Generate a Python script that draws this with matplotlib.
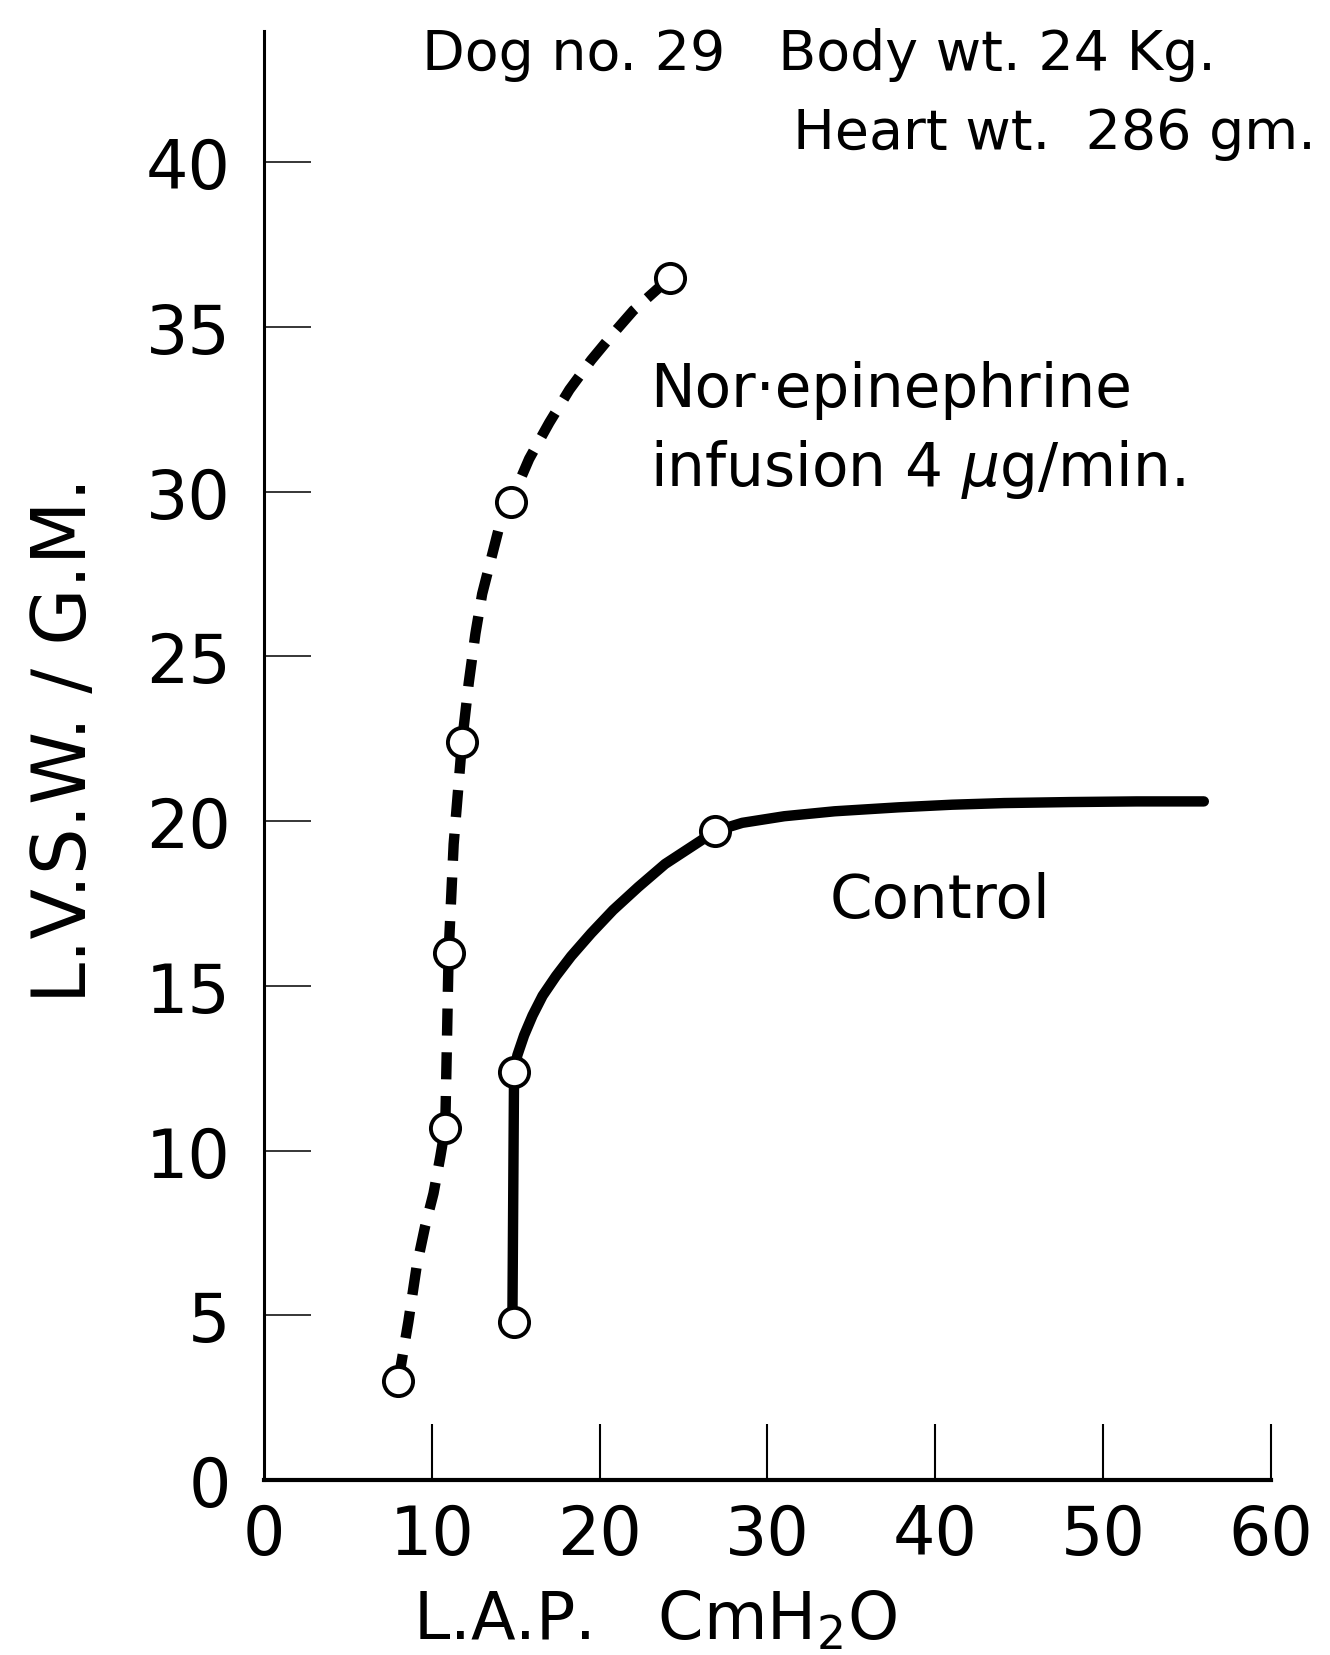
import numpy as np
import matplotlib
matplotlib.use("Agg")
import matplotlib.pyplot as plt

# measured points (L.A.P. cmH2O, L.V.S.W./G.M.)
ne_x = [8.0, 10.8, 11.0, 11.8, 14.7, 24.2]
ne_y = [3.0, 10.7, 16.0, 22.4, 29.7, 36.5]
ctl_x = [14.9, 14.9, 26.9]
ctl_y = [4.8, 12.4, 19.7]

# hand drawn curves
ne_curve_x = [8.0, 8.6, 9.1, 9.6, 10.1, 10.5, 10.8, 10.9, 11.0, 11.3, 11.8,
              12.2, 12.6, 13.0, 13.5, 14.0, 14.7, 15.8, 17.0, 18.2, 19.5, 20.8, 22.0, 23.1, 24.2]
ne_curve_y = [3.0, 4.8, 6.5, 7.7, 8.7, 9.8, 10.7, 13.3, 16.0, 19.3, 22.4,
              24.2, 25.7, 26.9, 27.9, 28.9, 29.7, 31.0, 32.1, 33.1, 34.0, 34.8, 35.5, 36.0, 36.5]
ctl_curve_x = [14.8, 14.9, 15.1, 15.5, 16.0, 16.6, 17.4, 18.3, 19.5, 20.8, 22.3, 23.9, 25.4,
               26.9, 28.5, 31.0, 34.0, 37.8, 41.0, 44.1, 48.0, 52.0, 56.0]
ctl_curve_y = [4.8, 12.4, 12.9, 13.5, 14.1, 14.7, 15.3, 15.9, 16.6, 17.3, 18.0, 18.7, 19.2,
               19.7, 19.95, 20.15, 20.3, 20.42, 20.5, 20.55, 20.58, 20.6, 20.6]

xticks = [0, 10, 20, 30, 40, 50, 60]
yticks = [0, 5, 10, 15, 20, 25, 30, 35, 40]

plt.rcParams['font.family'] = ['DejaVu Sans']

fig = plt.figure(figsize=(13.3, 16.56), dpi=100)
ax = fig.add_axes([0.1985, 0.1057, 0.7571, 0.8752])

ax.plot(ne_curve_x, ne_curve_y, color='black', lw=7.5, linestyle=(0, (2.6, 1.6)),
        solid_capstyle='butt', dash_capstyle='butt', solid_joinstyle='round', zorder=2)
ax.plot(ctl_curve_x, ctl_curve_y, color='black', lw=7.5, solid_joinstyle='round',
        solid_capstyle='round', zorder=2)
ax.plot(ne_x, ne_y, 'o', ms=21, mfc='white', mec='black', mew=2.8, zorder=3)
ax.plot(ctl_x, ctl_y, 'o', ms=21, mfc='white', mec='black', mew=2.8, zorder=3)

ax.set_xlim(0, 60)
ax.set_ylim(0, 44)
for s in ['top', 'right']:
    ax.spines[s].set_visible(False)
ax.spines['left'].set_linewidth(2.2)
ax.spines['bottom'].set_linewidth(3)

ax.set_xticks(xticks)
ax.set_yticks(yticks)
ax.tick_params(axis='x', direction='in', length=40, width=1.5, pad=16, labelsize=48)
ax.tick_params(axis='y', direction='in', length=34, width=1.1, pad=24, labelsize=48)
ax.yaxis.get_major_ticks()[0].tick1line.set_visible(False)
ax.xaxis.get_major_ticks()[0].tick1line.set_visible(False)

fig.text(0.049, 0.553, 'L.V.S.W. / G.M.', rotation=90, ha='center', va='center', fontsize=53)
fig.text(0.4925, 0.021, 'L.A.P.   CmH$_2$O', ha='center', va='center', fontsize=47)

ax.text(9.4, 43.3, 'Dog no. 29   Body wt. 24 Kg.', fontsize=40, va='center', clip_on=False)
ax.text(31.5, 40.9, 'Heart wt.  286 gm.', fontsize=40, va='center', clip_on=False)
ax.text(23.0, 33.1, 'Nor·epinephrine', fontsize=43, va='center')
ax.text(23.0, 30.7, 'infusion 4 $\\mu$g/min.', fontsize=43, va='center')
ax.text(33.7, 17.6, 'Control', fontsize=44, va='center')

fig.savefig('out.png', dpi=100)
